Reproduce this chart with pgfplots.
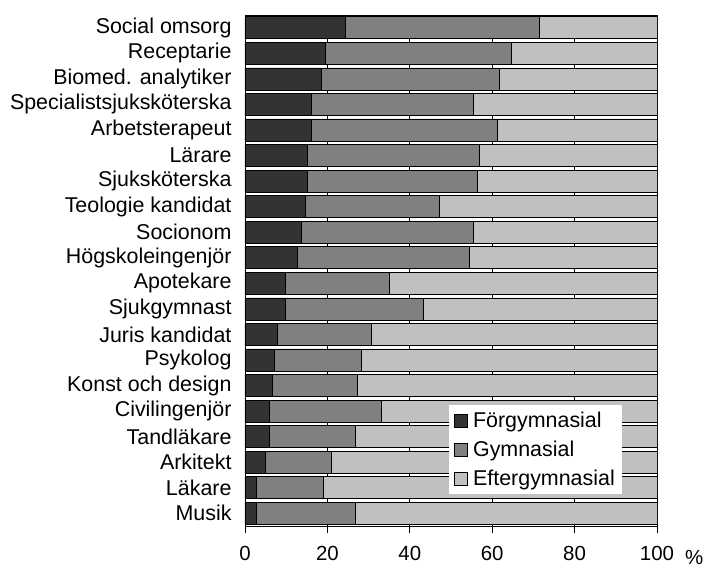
\documentclass[border=0pt]{standalone}
\usepackage{pgfplots}
\pgfplotsset{compat=1.18}
\usepackage{pgfplotstable}
\usepackage{fontspec}
\setmainfont{Liberation Sans}
\definecolor{cF}{HTML}{333333}
\definecolor{cG}{HTML}{808080}
\definecolor{cE}{HTML}{C0C0C0}
\pgfplotstableread{
y F G E
0 24.3 47.1 28.6
1 19.6 45.0 35.4
2 18.5 43.2 38.3
3 16.0 39.5 44.5
4 16.0 45.2 38.8
5 15.1 41.7 43.2
6 15.1 41.3 43.6
7 14.6 32.5 52.9
8 13.6 41.9 44.5
9 12.6 41.9 45.5
10 9.8 25.3 64.9
11 9.8 33.4 56.8
12 7.9 22.7 69.4
13 7.2 21.0 71.8
14 6.7 20.5 72.8
15 5.9 27.2 66.9
16 5.9 20.8 73.3
17 4.9 16.0 79.1
18 2.8 16.1 81.1
19 2.8 23.9 73.3
}\datatable
\begin{document}
\begin{tikzpicture}
\useasboundingbox (-245bp,-42bp) rectangle (460bp,526bp);
\begin{axis}[
  at={(0,0)}, anchor=south west,
  scale only axis, width=412bp, height=511bp,
  xmin=0, xmax=100, ymin=-0.5, ymax=19.5, y dir=reverse,
  xbar stacked, bar width=0.86,
  xtick={0,20,...,100},
  ytick={0,...,19},
  yticklabels={Social omsorg, Receptarie, Biomed. analytiker, Specialistsjuksköterska, Arbetsterapeut, Lärare, Sjuksköterska, Teologie kandidat, Socionom, Högskoleingenjör, Apotekare, Sjukgymnast, Juris kandidat, Psykolog, Konst och design, Civilingenjör, Tandläkare, Arkitekt, Läkare, Musik},
  xtick pos=bottom, tick align=outside,
  major tick length=7bp,
  ytick style={draw=none},
  xmajorgrids, grid style={black, line width=0.6pt},
  axis line style={black, line width=0.8pt},
  tick style={black, line width=0.8pt},
  /pgf/number format/assume math mode=true,
  xticklabel style={font=\fontsize{20.5}{24}\selectfont, yshift=-10bp},
  yticklabel style={font=\fontsize{21.5}{25}\selectfont, xshift=-3bp},
  xlabel={\%},
  xlabel style={at={(rel axis cs:1,0)}, anchor=north west, inner sep=0pt, xshift=28bp, yshift=-24bp, font=\fontsize{20.5}{24}\selectfont},
  legend style={at={(rel axis cs:0.915,0.237)}, anchor=north east, draw=none, fill=white,
    font=\fontsize{21.5}{25}\selectfont, row sep=8bp, inner xsep=5bp, inner ysep=5bp},
  legend cell align=left,
  legend image code/.code={\draw[#1] (0bp,-6.5bp) rectangle (13bp,6.5bp); \path[draw=none,fill=none] (0bp,0bp) -- (17bp,0bp);},
]
\addplot[fill=cF, draw=black, line width=0.6pt] table[x=F, y=y] {\datatable};
\addplot[fill=cG, draw=black, line width=0.6pt] table[x=G, y=y] {\datatable};
\addplot[fill=cE, draw=black, line width=0.6pt] table[x=E, y=y] {\datatable};
\legend{Förgymnasial, Gymnasial, Eftergymnasial}
\end{axis}
\end{tikzpicture}
\end{document}
